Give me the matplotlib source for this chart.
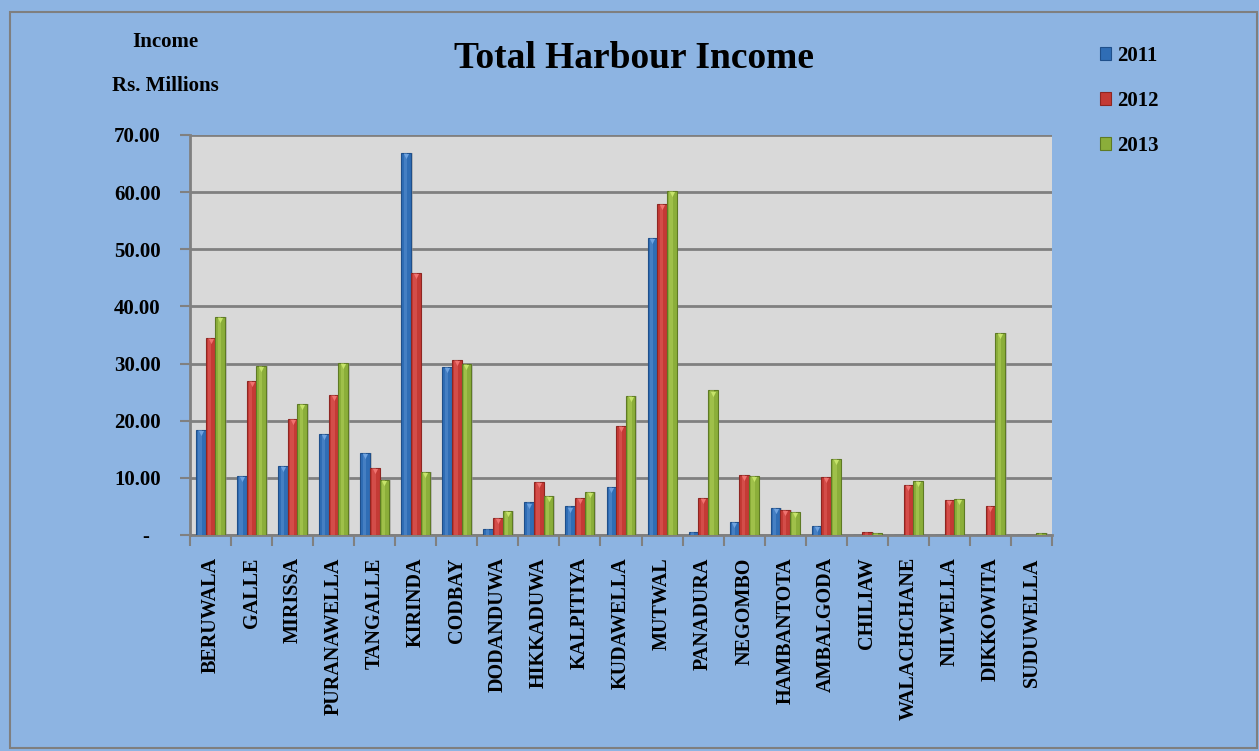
import numpy as np
import matplotlib
matplotlib.use("Agg")
import matplotlib.pyplot as plt
from matplotlib.patches import Rectangle
from matplotlib.ticker import FixedLocator, FuncFormatter

# ---------------------------------------------------------------------------
# Data (Rs. millions)
# ---------------------------------------------------------------------------
harbours = ["BERUWALA", "GALLE", "MIRISSA", "PURANAWELLA", "TANGALLE",
            "KIRINDA", "CODBAY", "DODANDUWA", "HIKKADUWA", "KALPITIYA",
            "KUDAWELLA", "MUTWAL", "PANADURA", "NEGOMBO", "HAMBANTOTA",
            "AMBALGODA", "CHILIAW", "WALACHCHANE", "NILWELLA", "DIKKOWITA",
            "SUDUWELLA"]
years = ["2011", "2012", "2013"]
income_2011 = [18.4, 10.3, 12.1, 17.7, 14.3, 66.8, 29.4, 1.0, 5.7, 5.0,
               8.4, 52.0, 0.6, 2.3, 4.7, 1.6, 0.0, 0.0, 0.0, 0.0, 0.0]
income_2012 = [34.5, 27.0, 20.3, 24.5, 11.7, 45.8, 30.7, 3.0, 9.3, 6.5,
               19.1, 58.0, 6.5, 10.5, 4.4, 10.2, 0.5, 8.8, 6.1, 5.1, 0.0]
income_2013 = [38.2, 29.6, 23.0, 30.1, 9.6, 11.0, 30.0, 4.2, 6.8, 7.5,
               24.4, 60.2, 25.3, 10.4, 4.0, 13.3, 0.3, 9.5, 6.3, 35.4, 0.4]
y_ticks = [0, 10, 20, 30, 40, 50, 60, 70]

# ---------------------------------------------------------------------------
# Style
# ---------------------------------------------------------------------------
BG = "#8DB4E2"
PLOT_BG = "#D9D9D9"
GRID = "#808080"
SERIES = [
    ("#2F6DB5", "#1F4F8A", "#6FA3E0"),   # base, edge, highlight
    ("#C43A35", "#8E2622", "#F07370"),
    ("#8BAE3A", "#5E7A24", "#C6E46A"),
]
plt.rcParams["font.family"] = ["Liberation Serif", "DejaVu Serif"]
plt.rcParams["font.weight"] = "bold"

fig = plt.figure(figsize=(12.59, 7.51), dpi=100, facecolor=BG)
W, H = 1259, 751
ax = fig.add_axes([190 / W, 1 - 535 / H, (1052 - 190) / W, (535 - 135) / H])
ax.set_facecolor(PLOT_BG)

# outer chart border
fig.patches.append(Rectangle((10 / W, 3 / H), 1247 / W, 736 / H,
                             transform=fig.transFigure, fill=False,
                             edgecolor="#7F7F7F", linewidth=1.5))

x = np.arange(len(harbours))
bw = 0.235
series = [income_2011, income_2012, income_2013]
for i, (vals, (col, edge, hi)) in enumerate(zip(series, SERIES)):
    pos = x + (i - 1) * bw
    vals = np.asarray(vals)
    # shadow
    ax.bar(pos + 0.04, vals, bw, color="#9A9A9A", alpha=0.5, zorder=2,
           linewidth=0)
    ax.bar(pos, vals, bw, color=col, edgecolor=edge, linewidth=0.8,
           zorder=3, label=years[i])
    # lighter inner stripe for bevel look
    ax.bar(pos - bw * 0.08, vals, bw * 0.35, color=hi, alpha=0.35,
           linewidth=0, zorder=4)
    tops = vals > 1.0
    ax.scatter(pos[tops], vals[tops] - 0.55, marker="v", s=14, color=hi,
               zorder=5, linewidths=0)

ax.set_xlim(-0.5, len(harbours) - 0.5)
ax.set_ylim(0, 70)
ax.yaxis.set_major_locator(FixedLocator(y_ticks))
ax.yaxis.set_major_formatter(FuncFormatter(lambda v, _: "-  " if v == 0 else f"{v:.2f}"))
ax.grid(axis="y", color=GRID, linewidth=2, zorder=1)
ax.set_axisbelow(True)

ax.set_xticks(x)
ax.set_xticklabels(harbours, rotation=90, fontsize=14.5, fontweight="bold",
                   va="top")
ax.tick_params(axis="x", length=0, pad=16)
ax.xaxis.set_minor_locator(FixedLocator(np.arange(-0.5, len(harbours), 1)))
ax.tick_params(axis="x", which="minor", length=8, width=1.5, color=GRID,
               direction="out")
ax.tick_params(axis="y", length=7, width=1.5, color=GRID, labelsize=15,
               pad=14)
for lab in ax.get_yticklabels():
    lab.set_fontweight("bold")

for side in ("top", "right"):
    ax.spines[side].set_visible(False)
for side in ("left", "bottom"):
    ax.spines[side].set_color(GRID)
    ax.spines[side].set_linewidth(2)

fig.text(634 / W, 1 - 58 / H, "Total Harbour Income", fontsize=27,
         fontweight="bold", ha="center", va="center")
fig.text(165 / W, 1 - 42 / H, "Income", fontsize=15, fontweight="bold",
         ha="center", va="center")
fig.text(165 / W, 1 - 86 / H, "Rs. Millions", fontsize=15, fontweight="bold",
         ha="center", va="center")

leg = ax.legend(loc="upper left", bbox_to_anchor=(1081 / W, 1 - 27 / H),
                bbox_transform=fig.transFigure, frameon=False,
                handlelength=0.55, handleheight=0.55, handletextpad=0.3,
                labelspacing=1.2, prop={"weight": "bold", "size": 15})

fig.savefig("out.png", dpi=100, facecolor=BG)
